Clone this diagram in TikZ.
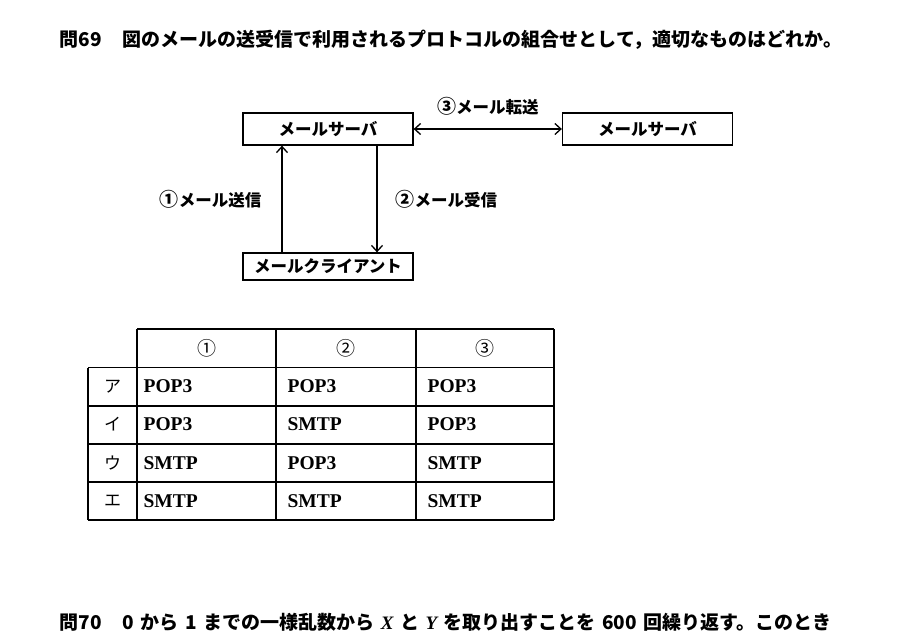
\documentclass[tikz,border=0pt]{standalone}
\usepackage{fontspec}
\setmainfont{Liberation Serif}
\newfontfamily\jp{Noto Sans CJK JP}
\usetikzlibrary{arrows.meta}
\newcommand\gap{\hspace{6.5pt}}
\newcommand\cnum[1]{{\fontsize{19}{20}\selectfont #1}}

\begin{document}
\begin{tikzpicture}[
  x=1pt, y=-1pt,
  box/.style={draw, line width=1.3pt, minimum width=170pt, inner sep=0pt,
    font=\jp\bfseries\fontsize{16.5}{18}\selectfont},
  lbl/.style={inner sep=0pt, font=\jp\bfseries\fontsize{16.5}{18}\selectfont},
  head/.style={inner sep=0pt, font=\jp\bfseries\fontsize{19}{21}\selectfont},
  cell/.style={inner sep=0pt, anchor=west, font=\bfseries\fontsize{19.5}{21}\selectfont},
  kana/.style={inner sep=0pt, font=\jp\fontsize{17}{19}\selectfont},
  >={Straight Barb[length=6pt,width=11pt]}, line width=1.3pt
]
  \useasboundingbox (0,0) rectangle (900,632);

  \node[head, anchor=west] (q69) at (59,40)
    {問69\hspace{21pt}図のメールの送受信で利用されるプロトコルの組合せとして，適切なものはどれか。};

  % diagram
  \node[box, minimum height=32pt] (srvA) at (328,129) {メールサーバ};
  \node[box, minimum height=32pt] (srvB) at (647.5,129) {メールサーバ};
  \node[box, minimum height=27pt] (cli)  at (328,266.5) {メールクライアント};

  \draw[->] ([xshift=-46pt]cli.north) -- node[lbl, left=20pt] {\cnum{①}メール送信} ([xshift=-46pt]srvA.south);
  \draw[->] ([xshift=49pt]srvA.south) -- node[lbl, right=18pt] {\cnum{②}メール受信} ([xshift=49pt]cli.north);
  \draw[<->] (srvA) -- node[lbl, above=13pt] {\cnum{③}メール転送} (srvB);

  % table
  \draw (137,329) -- (554,329);
  \foreach \y in {367.5,406,444,482,520}
    \draw (88,\y) -- (554,\y);
  \draw (88,367.5) -- (88,520);
  \foreach \x in {137,276,416,554}
    \draw (\x,329) -- (\x,520);

  \node[kana] (h1) at (206.5,348) {\cnum{①}};
  \node[kana] (h2) at (346,348) {\cnum{②}};
  \node[kana] (h3) at (485,348) {\cnum{③}};

  \foreach \k/\a/\b/\c [count=\i] in {ア/POP3/POP3/POP3, イ/POP3/SMTP/POP3,
      ウ/SMTP/POP3/SMTP, エ/SMTP/SMTP/SMTP} {
    \pgfmathsetmacro{\ry}{348+38.25*\i}
    \node[kana] (k\i) at (112.5,\ry) {\k};
    \node[cell] (a\i) at (143,\ry) {\a};
    \node[cell] (b\i) at (287,\ry) {\b};
    \node[cell] (c\i) at (427,\ry) {\c};
  }

  \node[head, anchor=west] (q70) at (59,622)
    {問70\hspace{21pt}0\gap から\gap 1\gap までの一様乱数から\gap{\rmfamily\bfseries\itshape X}\gap と\gap{\rmfamily\bfseries\itshape Y}\gap を取り出すことを\gap 600\gap 回繰り返す。このとき};
\end{tikzpicture}
\end{document}
